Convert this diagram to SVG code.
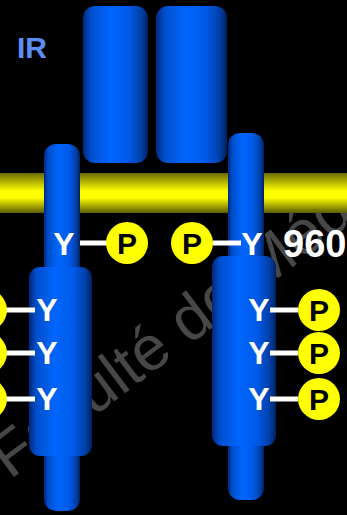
<svg xmlns="http://www.w3.org/2000/svg" width="347" height="515" viewBox="0 0 347 515">
  <defs>
    <linearGradient id="tube" x1="0" y1="0" x2="1" y2="0">
      <stop offset="0" stop-color="#00287f"/>
      <stop offset="0.12" stop-color="#004fcc"/>
      <stop offset="0.42" stop-color="#0066ff"/>
      <stop offset="0.7" stop-color="#005ae8"/>
      <stop offset="0.9" stop-color="#003fa6"/>
      <stop offset="1" stop-color="#00215e"/>
    </linearGradient>
    <linearGradient id="membrane" x1="0" y1="0" x2="0" y2="1">
      <stop offset="0" stop-color="#6a6a00"/>
      <stop offset="0.45" stop-color="#ffff00"/>
      <stop offset="0.62" stop-color="#ffff00"/>
      <stop offset="1" stop-color="#5a5a00"/>
    </linearGradient>
  </defs>
  <style>
    .tube { fill: url(#tube); }
    .y { font-family: "Liberation Sans", Arial, sans-serif; font-weight: bold; font-size: 32px; fill: #ffffff; text-anchor: middle; }
    .p { font-family: "Liberation Sans", Arial, sans-serif; font-weight: bold; font-size: 30px; fill: #000000; text-anchor: middle; }
    .ball { fill: #ffff00; }
    .link { stroke: #ffffff; stroke-width: 5; }
  </style>

  <rect x="0" y="0" width="347" height="515" fill="#000000"/>

  <!-- watermark, lies under every shape -->
  <text x="0" y="0" transform="translate(10,480) rotate(-37)" font-family="Liberation Sans, Arial, sans-serif" font-size="63" fill="#474747">Faculté de Médecine</text>

  <!-- membrane -->
  <rect x="0" y="173" width="347" height="40" fill="url(#membrane)"/>

  <!-- alpha subunits -->
  <g id="alpha-left"><rect class="tube" x="83" y="6" width="65" height="157" rx="12"/></g>
  <g id="alpha-right"><rect class="tube" x="156" y="6" width="71" height="157" rx="12"/></g>

  <!-- beta subunits -->
  <g id="beta-left">
    <rect class="tube" x="44" y="144" width="36" height="367" rx="12"/>
    <rect class="tube" x="29" y="267" width="63" height="189" rx="11"/>
  </g>
  <g id="beta-right">
    <rect class="tube" x="228" y="133" width="36" height="367" rx="12"/>
    <rect class="tube" x="212" y="256" width="64" height="190" rx="11"/>
  </g>

  <text id="label-ir" x="17" y="58" font-family="Liberation Sans, Arial, sans-serif" font-weight="bold" font-size="30" fill="#5b8ef4">IR</text>
  <text id="label-960" x="283" y="257" font-family="Liberation Sans, Arial, sans-serif" font-weight="bold" font-size="38" fill="#ffffff">960</text>

  <!-- connectors -->
  <g id="connectors">
    <line class="link" x1="80" y1="243" x2="107" y2="243"/>
    <line class="link" x1="213" y1="243" x2="241" y2="243"/>
    <line class="link" x1="0" y1="310" x2="35" y2="310"/>
    <line class="link" x1="0" y1="353" x2="35" y2="353"/>
    <line class="link" x1="0" y1="399" x2="35" y2="399"/>
    <line class="link" x1="270" y1="310" x2="298" y2="310"/>
    <line class="link" x1="270" y1="353" x2="298" y2="353"/>
    <line class="link" x1="270" y1="399" x2="298" y2="399"/>
  </g>

  <!-- tyrosines -->
  <g id="y-top-left"><text class="y" x="64" y="255">Y</text></g>
  <g id="y-top-right"><text class="y" x="252" y="255">Y</text></g>
  <g id="y-left-1"><text class="y" x="47" y="321">Y</text></g>
  <g id="y-left-2"><text class="y" x="47" y="364">Y</text></g>
  <g id="y-left-3"><text class="y" x="47" y="410">Y</text></g>
  <g id="y-right-1"><text class="y" x="259" y="321">Y</text></g>
  <g id="y-right-2"><text class="y" x="259" y="364">Y</text></g>
  <g id="y-right-3"><text class="y" x="259" y="410">Y</text></g>

  <!-- phosphates -->
  <g id="p-top-left"><circle class="ball" cx="127" cy="243" r="21"/><text class="p" x="127" y="254">P</text></g>
  <g id="p-top-right"><circle class="ball" cx="192" cy="243" r="21"/><text class="p" x="192" y="254">P</text></g>
  <g id="p-left-1"><circle class="ball" cx="-14" cy="310" r="21"/></g>
  <g id="p-left-2"><circle class="ball" cx="-14" cy="353" r="21"/></g>
  <g id="p-left-3"><circle class="ball" cx="-14" cy="399" r="21"/></g>
  <g id="p-right-1"><circle class="ball" cx="319" cy="310" r="21"/><text class="p" x="319" y="321">P</text></g>
  <g id="p-right-2"><circle class="ball" cx="319" cy="353" r="21"/><text class="p" x="319" y="364">P</text></g>
  <g id="p-right-3"><circle class="ball" cx="319" cy="399" r="21"/><text class="p" x="319" y="410">P</text></g>
</svg>
